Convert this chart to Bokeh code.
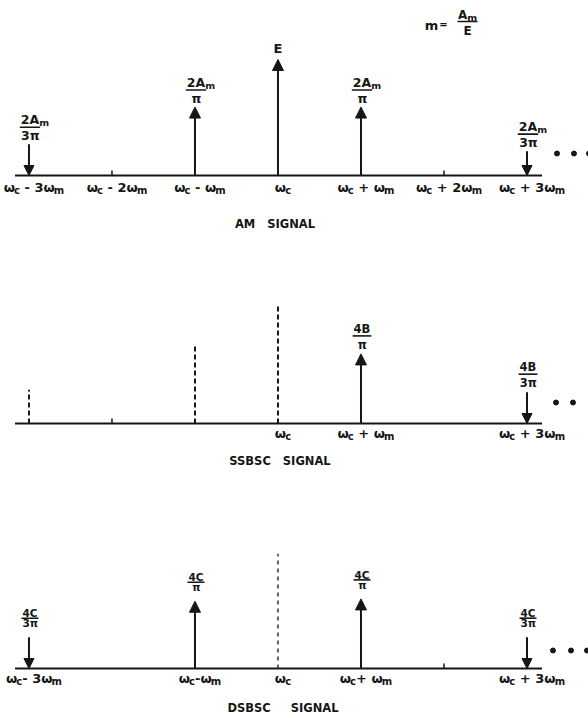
from bokeh.plotting import figure
from bokeh.layouts import column
from bokeh.models import ColumnDataSource, Arrow, NormalHead, Range1d
from bokeh.core.properties import value
from bokeh.embed import file_html
from bokeh.resources import INLINE

INK = "#161616"
FONT = "DejaVu Sans"
NBSP = "\u00a0"

# ---------------- data ----------------
# spectral positions: harmonic index n  ->  omega_c + n * omega_m
harmonics = [-3, -2, -1, 0, 1, 2, 3]
am_labels = ["ω_c - 3ω_m", "ω_c - 2ω_m", "ω_c - ω_m", "ω_c",
             "ω_c + ω_m", "ω_c + 2ω_m", "ω_c + 3ω_m"]

# AM signal (amplitudes relative to the carrier E; negative = drawn downward)
am_n = [-3, -1, 0, 1, 3]
am_amp = [-0.27, 0.59, 1.00, 0.59, -0.21]
am_tags = ["2A_m/3π", "2A_m/π", "E", "2A_m/π", "2A_m/3π"]
am_minor = [-2, 2]

# SSBSC signal
ss_n = [1, 3]
ss_amp = [0.60, -0.27]
ss_tags = ["4B/π", "4B/3π"]
ss_supp_n = [-3, -1, 0]          # suppressed components (dashed)
ss_supp_amp = [0.29, 0.67, 1.02]
ss_minor = [-2]
ss_label_n = [0, 1, 3]
ss_labels = ["ω_c", "ω_c + ω_m", "ω_c + 3ω_m"]

# DSBSC signal
ds_n = [-3, -1, 1, 3]
ds_amp = [-0.27, 0.58, 0.60, -0.27]
ds_tags = ["4C/3π", "4C/π", "4C/π", "4C/3π"]
ds_supp_n = [0]
ds_supp_amp = [0.99]
ds_minor = [2]
ds_label_n = [-3, -1, 0, 1, 3]
ds_labels = ["ω_c- 3ω_m", "ω_c-ω_m", "ω_c", "ω_c+ ω_m", "ω_c + 3ω_m"]

titles = ["AM   SIGNAL", "SSBSC   SIGNAL", "DSBSC     SIGNAL"]

# ---------------- layout helpers ----------------
FIG_W = 588
X_LO, X_HI = -3.343, 3.741
PX_X = FIG_W / (X_HI - X_LO)
PX_Y = 116.0

ADV = {' ': 0.348, '+': 0.838, '-': 0.416, '=': 0.838, '2': 0.696, '3': 0.696,
       '4': 0.696, 'A': 0.774, 'B': 0.762, 'C': 0.734, 'E': 0.683, 'c': 0.592,
       'm': 1.042, 't': 0.478, 'ω': 0.80, 'π': 0.72}


def text_w(s, size):
    return sum(ADV.get(ch, 0.65) for ch in s) * size


def rich(s, size, sub_size, drop=3.0):
    segs = []
    x = 0.0
    main_w = 0.0
    buf = ""
    i = 0
    while i < len(s):
        if s[i] == "_":
            if buf:
                segs.append((x, 0.0, buf.replace(" ", NBSP), size))
                w = text_w(buf, size)
                x += w
                main_w += w
                buf = ""
            ch = s[i + 1]
            segs.append((x, -drop, ch, sub_size))
            x += text_w(ch, sub_size)
            i += 2
        else:
            buf += s[i]
            i += 1
    if buf:
        segs.append((x, 0.0, buf.replace(" ", NBSP), size))
        w = text_w(buf, size)
        x += w
        main_w += w
    return segs, x, main_w


class Panel:
    def __init__(self, height, base_from_top):
        y_hi = base_from_top / PX_Y
        y_lo = -(height - base_from_top) / PX_Y
        self.p = figure(width=FIG_W, height=height,
                        x_range=Range1d(X_LO, X_HI), y_range=Range1d(y_lo, y_hi),
                        x_axis_type=None, y_axis_type=None,
                        toolbar_location=None, output_backend="svg",
                        min_border=0, outline_line_color=None,
                        background_fill_color="white", border_fill_color="white")
        self.txt = dict(x=[], y=[], text=[], fs=[])
        self.bars = dict(x0=[], x1=[], y=[])

    def X(self, n, dpx=0.0):
        return n + dpx / PX_X

    def Y(self, v, dpx=0.0):
        return v + dpx / PX_Y

    def put(self, n, v, dx, dy, s, size):
        self.txt["x"].append(self.X(n, dx))
        self.txt["y"].append(self.Y(v, dy))
        self.txt["text"].append(s)
        self.txt["fs"].append(f"{size}px")

    def rich_at(self, n, v, dx_center, dy, s, size, sub, main_only=False):
        segs, total, main_w = rich(s, size, sub)
        left = dx_center - (main_w if main_only else total) / 2
        for sx, sdy, t, fs in segs:
            self.put(n, v, left + sx, dy + sdy, t, fs)
        return main_w

    def bar(self, n, v, dx_center, dy, w):
        self.bars["x0"].append(self.X(n, dx_center - w / 2))
        self.bars["x1"].append(self.X(n, dx_center + w / 2))
        self.bars["y"].append(self.Y(v, dy))

    def tag(self, n, top, tag, size, sub, offs=(24, 17, 10)):
        if "/" in tag:
            num, den = tag.split("/")
            mw = self.rich_at(n, top, 1, offs[0], num, size, sub, main_only=True)
            self.rich_at(n, top, 1, offs[2], den, size, sub)
            self.bar(n, top, 1, offs[1], mw + 2)
        else:
            self.rich_at(n, top, 0, 11, tag, 13, 9)

    def arrows(self, ns, amps, tags, size, sub, offs=(24, 17, 10)):
        for sign, head in ((1, 11), (-1, 10)):
            sel = [(n, a) for n, a in zip(ns, amps) if a * sign > 0]
            if not sel:
                continue
            src = ColumnDataSource(dict(
                x=[n for n, a in sel],
                y0=[max(-a, 0) for n, a in sel],
                y1=[max(a, 0) for n, a in sel]))
            self.p.add_layout(Arrow(
                end=NormalHead(size=head, fill_color=INK, line_color=INK, line_width=1),
                x_start="x", y_start="y0", x_end="x", y_end="y1",
                line_color=INK, line_width=2, source=src))
        for n, a, t in zip(ns, amps, tags):
            self.tag(n, abs(a), t, size, sub, offs)

    def baseline(self, minor):
        self.p.segment(x0=[self.X(min(harmonics), -14)], y0=[0],
                       x1=[self.X(max(harmonics), 15)], y1=[0],
                       line_color=INK, line_width=2)
        if minor:
            self.p.segment(x0=minor, y0=[0] * len(minor), x1=minor,
                           y1=[self.Y(0, 5)] * len(minor),
                           line_color=INK, line_width=1.5)

    def labels(self, ns, labs, dy):
        for n, s in zip(ns, labs):
            self.rich_at(n, 0, 5, dy, s, 13, 10)

    def dots(self, dxs, dy):
        self.p.scatter(x=[self.X(max(harmonics), d) for d in dxs],
                       y=[self.Y(0, dy)] * len(dxs), size=5,
                       fill_color=INK, line_color=INK)

    def title(self, s, dx, dy):
        self.p.text(x=[self.X(0, dx)], y=[self.Y(0, dy)], text=[s.replace(" ", NBSP)],
                    text_align="center", text_baseline="middle",
                    text_font=value(FONT), text_font_style="bold",
                    text_font_size="11.5px", text_color=INK)

    def finish(self):
        if self.bars["x0"]:
            self.p.segment(x0="x0", x1="x1", y0="y", y1="y",
                           source=ColumnDataSource(self.bars),
                           line_color=INK, line_width=1.6)
        self.p.text(x="x", y="y", text="text", text_font_size="fs",
                    source=ColumnDataSource(self.txt),
                    text_align="left", text_baseline="middle",
                    text_font=value(FONT), text_font_style="bold",
                    text_color=INK)
        return self.p


# ---------------- AM ----------------
am = Panel(240, 175)
am.baseline(am_minor)
am.arrows(am_n, am_amp, am_tags, 12.5, 9.5, offs=(25, 17, 9))
am.labels(harmonics, am_labels, -12)
am.dots([30, 47, 62], 22)
am.title(titles[0], -3, -48)
# m = Am / E
am.rich_at(0, 0, 153.5, 150, "m", 13, 9)
am.rich_at(0, 0, 165.5, 151, "=", 10, 8)
am.rich_at(0, 0, 189.5, 161, "A_m", 12, 9.5)
am.bar(0, 0, 189.5, 154, 20)
am.rich_at(0, 0, 189.5, 145, "E", 12, 9)

# ---------------- SSBSC ----------------
ss = Panel(240, 183)
ss.baseline(ss_minor)
ss.p.segment(x0=ss_supp_n, y0=[0] * len(ss_supp_n), x1=ss_supp_n, y1=ss_supp_amp,
             line_color=INK, line_width=2, line_dash="5 3")
ss.arrows(ss_n, ss_amp, ss_tags, 11.5, 9, offs=(25, 18, 9))
ss.labels(ss_label_n, ss_labels, -10)
ss.dots([29, 46], 21)
ss.title(titles[1], 2, -37)

# ---------------- DSBSC ----------------
ds = Panel(238, 188)
ds.baseline(ds_minor)
ds.p.segment(x0=ds_supp_n, y0=[0] * len(ds_supp_n), x1=ds_supp_n, y1=ds_supp_amp,
             line_color="#333333", line_width=1.5, line_dash="4 4")
ds.arrows(ds_n, ds_amp, ds_tags, 10.5, 8, offs=(24, 19, 14))
ds.labels(ds_label_n, ds_labels, -10)
ds.dots([26, 44, 60], 18)
ds.title(titles[2], 5, -39)

layout = column(am.finish(), ss.finish(), ds.finish(), spacing=0)
open("out.html", "w").write(file_html(layout, INLINE))
